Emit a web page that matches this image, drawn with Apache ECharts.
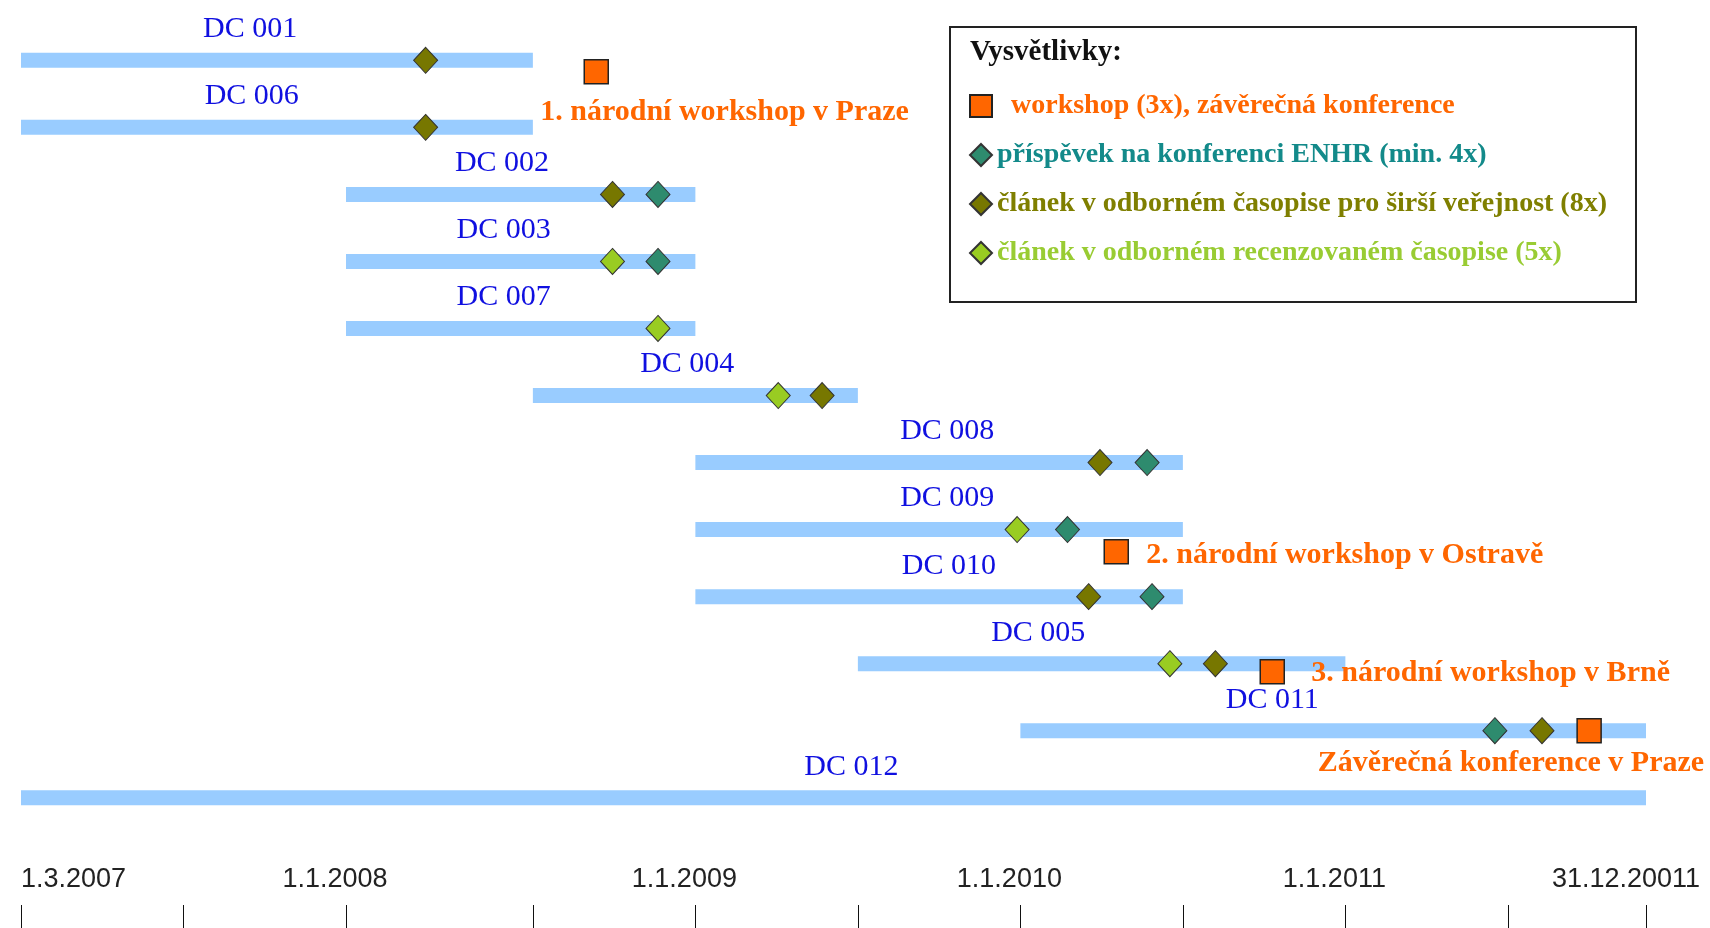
<!DOCTYPE html>
<html>
<head>
<meta charset="utf-8">
<title>DC timeline</title>
<script src="https://cdn.jsdelivr.net/npm/echarts@6/dist/echarts.min.js"></script>
<style>
    html, body { margin: 0; padding: 0; background: #fff; }
    #chart { width: 1710px; height: 928px; }
</style>
</head>
<body>
<div id="chart"></div>
<script>
// rows, top to bottom
const tasks = ['DC 001', 'DC 006', 'DC 002', 'DC 003', 'DC 007', 'DC 004',
               'DC 008', 'DC 009', 'DC 010', 'DC 005', 'DC 011', 'DC 012'];
// x in "slot" units of the drawing (one slot ~ half a year)
const taskStart = [0, 0, 2, 2, 2, 3.15, 4.15, 4.15, 4.15, 5.15, 6.15, 0];
const taskEnd = [3.15, 3.15, 4.15, 4.15, 4.15, 5.15, 7.15, 7.15, 7.15, 8.15, 10, 10];
const taskLabelAt = [1.41, 1.42, 2.96, 2.97, 2.97, 4.10, 5.70, 5.70, 5.71, 6.26, 7.70, 5.11];

const tickAt = [0, 1, 2, 3.15, 4.15, 5.15, 6.15, 7.15, 8.15, 9.15, 10];
const dateTickAt = [0, 2, 4.15, 6.15, 8.15, 10];
const dateLabels = ['1.3.2007', '1.1.2008', '1.1.2009', '1.1.2010', '1.1.2011', '31.12.20011'];

// milestones as [x, row]
const workshops = [[3.54, 0.17], [6.74, 7.33], [7.70, 9.12], [9.65, 10]];
const workshopNames = ['1. národní workshop v Praze', '2. národní workshop v Ostravě',
                       '3. národní workshop v Brně', 'Závěrečná konference v Praze'];
const enhrPapers = [[3.92, 2], [3.92, 3], [6.93, 6], [6.44, 7], [6.96, 8], [9.07, 10]];
const publicArticles = [[2.49, 0], [2.49, 1], [3.64, 2], [4.93, 5], [6.64, 6], [6.57, 8], [7.35, 9], [9.36, 10]];
const reviewedArticles = [[3.64, 3], [3.92, 4], [4.66, 5], [6.13, 7], [7.07, 9]];

const legendNames = ['workshop (3x), závěrečná konference',
                     'příspěvek na konferenci ENHR (min. 4x)',
                     'článek v odborném časopise pro širší veřejnost (8x)',
                     'článek v odborném recenzovaném časopise (5x)'];

const SERIF = '"Liberation Serif", "DejaVu Serif", serif';
const ORANGE = '#FF6600';

// where each workshop caption sits relative to its square
const workshopLabel = [
    { align: 'left', offset: [-56, 41] },
    { align: 'left', offset: [30, 4] },
    { align: 'left', offset: [39, 2] },
    { align: 'right', offset: [115, 33] }
];

const chart = echarts.init(document.getElementById('chart'));

const diamond = (name, data, color) => ({
    name: name,
    type: 'scatter',
    data: data,
    symbol: 'diamond',
    symbolSize: [24, 26],
    z: 4,
    itemStyle: { color: color, borderColor: '#333', borderWidth: 1, opacity: 1 }
});

const option = {
    animation: false,
    backgroundColor: '#fff',
    title: {
        text: 'Vysvětlivky:',
        left: 965,
        top: 33,
        textStyle: { fontFamily: SERIF, fontWeight: 'bold', fontSize: 29, color: '#111' }
    },
    legend: {
        orient: 'vertical',
        left: 950,
        top: 27,
        padding: [64, 29, 34, 19],
        itemWidth: 22,
        itemHeight: 22,
        itemGap: 19,
        borderColor: '#222',
        borderWidth: 2,
        selectedMode: false,
        formatter: (name) => name === legendNames[0] ? '  ' + name : name,
        textStyle: { fontFamily: SERIF, fontWeight: 'bold', fontSize: 28, lineHeight: 30 },
        data: [
            { name: legendNames[0], textStyle: { color: ORANGE } },
            { name: legendNames[1], textStyle: { color: '#138a8a' } },
            { name: legendNames[2], textStyle: { color: '#7f7f00' } },
            { name: legendNames[3], textStyle: { color: '#99cc33' } }
        ]
    },
    grid: { left: 21, right: 64, top: 0, bottom: 23, outerBoundsMode: 'none' },
    xAxis: {
        type: 'value',
        min: 0,
        max: 10,
        axisLine: { show: false, onZero: false },
        splitLine: { show: false },
        axisTick: {
            show: true,
            customValues: tickAt,
            length: 23,
            lineStyle: { color: '#111', width: 1 }
        },
        axisLabel: {
            customValues: dateTickAt,
            inside: true,
            margin: 12,
            alignMinLabel: 'left',
            padding: [0, 22, 0, 0],
            fontFamily: '"Liberation Sans", Arial, sans-serif',
            fontSize: 27,
            color: '#222',
            formatter: (v) => {
                let best = 0;
                dateTickAt.forEach((t, i) => {
                    if (Math.abs(t - v) < Math.abs(dateTickAt[best] - v)) best = i;
                });
                return best === dateTickAt.length - 1
                    ? '{last|' + dateLabels[best] + '}'
                    : dateLabels[best];
            },
            rich: {
                last: {
                    fontFamily: '"Liberation Sans", Arial, sans-serif',
                    fontSize: 27,
                    color: '#222',
                    padding: [0, 18, 0, 0]
                }
            }
        }
    },
    yAxis: {
        type: 'value',
        inverse: true,
        min: -0.9,
        max: 12.6,
        show: false
    },
    series: [
        {
            type: 'custom',
            name: 'tasks',
            z: 2,
            data: tasks.map((n, i) => [taskStart[i], taskEnd[i], i, taskLabelAt[i]]),
            encode: { x: [0, 1], y: 2 },
            renderItem: (params, api) => {
                const row = api.value(2);
                const a = api.coord([api.value(0), row]);
                const b = api.coord([api.value(1), row]);
                const t = api.coord([api.value(3), row]);
                return {
                    type: 'group',
                    children: [
                        {
                            type: 'rect',
                            shape: { x: a[0], y: a[1] - 7.5, width: b[0] - a[0], height: 15 },
                            style: { fill: '#99CCFF' }
                        },
                        {
                            type: 'text',
                            style: {
                                text: tasks[params.dataIndex],
                                x: t[0],
                                y: t[1] - 31,
                                align: 'center',
                                verticalAlign: 'middle',
                                fill: '#1010E0',
                                font: '30px ' + SERIF
                            }
                        }
                    ]
                };
            }
        },
        {
            name: legendNames[0],
            type: 'scatter',
            symbol: 'rect',
            symbolSize: 24,
            z: 5,
            itemStyle: { color: ORANGE, borderColor: '#222', borderWidth: 1.5, opacity: 1 },
            data: workshops.map((p, i) => ({
                value: p,
                name: workshopNames[i],
                label: {
                    show: true,
                    position: 'inside',
                    align: workshopLabel[i].align,
                    offset: workshopLabel[i].offset,
                    formatter: workshopNames[i],
                    color: ORANGE,
                    fontFamily: SERIF,
                    fontWeight: 'bold',
                    fontSize: 30
                }
            }))
        },
        diamond(legendNames[1], enhrPapers, '#2E8B6E'),
        diamond(legendNames[2], publicArticles, '#777700'),
        diamond(legendNames[3], reviewedArticles, '#99CC22')
    ]
};

chart.setOption(option);
window.addEventListener('resize', () => chart.resize());
</script>
</body>
</html>
